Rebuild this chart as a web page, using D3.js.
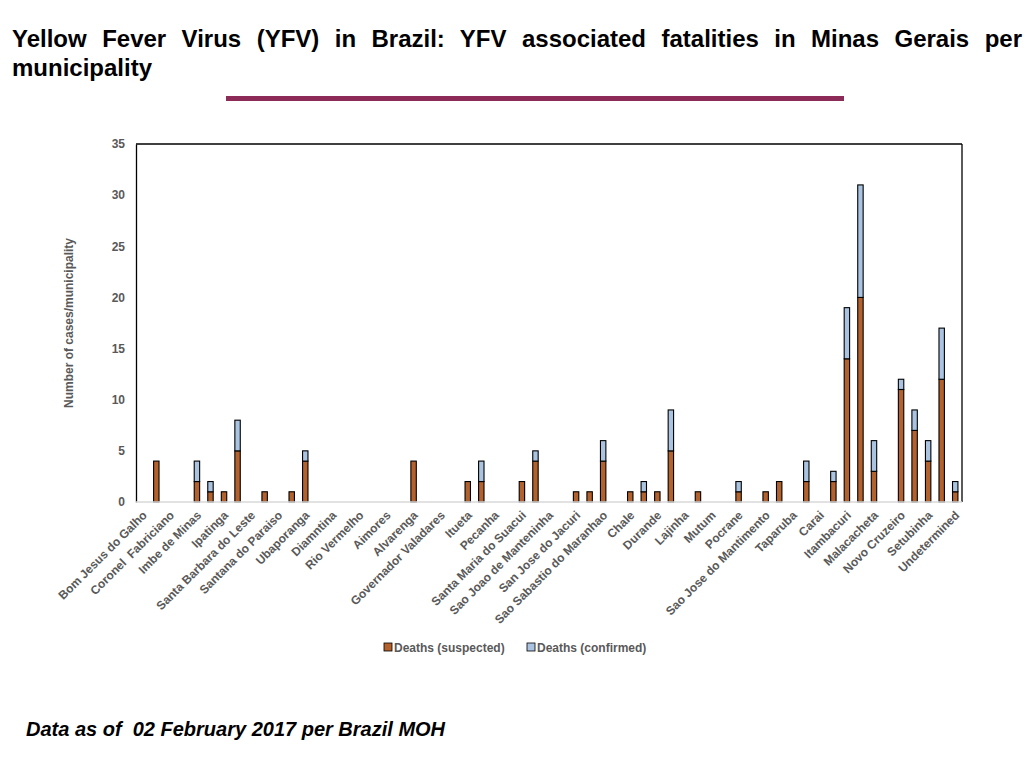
<!DOCTYPE html>
<html><head><meta charset="utf-8">
<script src="https://cdn.jsdelivr.net/npm/d3@7"></script>
<style>body{margin:0;background:#fff}svg{font-family:"Liberation Sans",Arial,sans-serif}</style>
</head><body><svg id="c" width="1024" height="768"></svg>
<script>
// Categories (every other municipality is labelled on the axis; unlabelled ones are "")
const categories = [
"Bom Jesus do Galho","","Coronel  Fabriciano","","Imbe de Minas","","Ipatinga","",
"Santa Barbara do Leste","","Santana do Paraiso","","Ubaporanga","","Diamntina","",
"Rio Vermelho","","Aimores","","Alvarenga","","Governador Valadares","","Itueta","",
"Pecanha","","Santa Maria do Suacui","","Sao Joao de Manteninha","","San Jose do Jacuri","",
"Sao Sabastio do Maranhao","","Chale","","Durande","","Lajinha","","Mutum","","Pocrane","",
"Sao Jose do Mantimento","","Taparuba","","Carai","","Itambacuri","","Malacacheta","",
"Novo Cruzeiro","","Setubinha","","Undetermined"];
const suspected = [
0,4,0,0,2,1,1,5,0,1,
0,1,4,0,0,0,0,0,0,0,
4,0,0,0,2,2,0,0,2,4,
0,0,1,1,4,0,1,1,1,5,
0,1,0,0,1,0,1,2,0,2,
0,2,14,20,3,0,11,7,4,12,
1];
const confirmed = [
0,0,0,0,2,1,0,3,0,0,
0,0,1,0,0,0,0,0,0,0,
0,0,0,0,0,2,0,0,0,1,
0,0,0,0,2,0,0,1,0,4,
0,0,0,0,1,0,0,0,0,2,
0,1,5,11,3,0,1,2,2,5,
1];
const seriesNames = ["Deaths (suspected)","Deaths (confirmed)"];
const yTicks = [0,5,10,15,20,25,30,35];
const titleLine1 = "Yellow Fever Virus (YFV) in Brazil: YFV associated fatalities in Minas Gerais per";
const titleLine2 = "municipality";
const yTitle = "Number of cases/municipality";
const footer = "Data as of  02 February 2017 per Brazil MOH";

const colors = ["#b3622e","#a9c3e0"];
const svg = d3.select("#c");
const L = 136, R = 962, T = 144, B = 502;

// Title, justified first line
const t1 = svg.append("text").attr("x",12).attr("y",47)
  .attr("font-size",24).attr("font-weight","bold").attr("fill","#000")
  .style("white-space","pre").text(titleLine1);
const natural = t1.node().getComputedTextLength();
const spaces = titleLine1.split(" ").length - 1;
t1.attr("word-spacing", (1022 - 12 - natural) / spaces);
svg.append("text").attr("x",12).attr("y",76)
  .attr("font-size",24).attr("font-weight","bold").attr("fill","#000").text(titleLine2);
svg.append("rect").attr("x",226).attr("y",96).attr("width",618).attr("height",5).attr("fill","#8c2a58");

// Scales
const idx = d3.range(categories.length);
const x = d3.scaleBand().domain(idx).range([L,R]).paddingInner(0.6).paddingOuter(0.3);
const y = d3.scaleLinear().domain([0,35]).range([B,T]);

// Frame
svg.append("line").attr("x1",L).attr("x2",R).attr("y1",T).attr("y2",T).attr("stroke","#000").attr("stroke-width",1.3);
svg.append("line").attr("x1",R).attr("x2",R).attr("y1",T).attr("y2",B).attr("stroke","#000").attr("stroke-width",1.3);

// Y axis
const ya = svg.append("g").attr("transform",`translate(${L},0)`)
  .call(d3.axisLeft(y).tickValues(yTicks).tickSize(0).tickPadding(11));
ya.select(".domain").attr("stroke","#000").attr("stroke-width",1.3);
ya.selectAll("text").attr("font-size",12).attr("font-weight","bold").attr("fill","#595959")
  .attr("font-family","Liberation Sans, Arial, sans-serif");
svg.append("text").attr("transform","translate(73,323) rotate(-90)").attr("text-anchor","middle")
  .attr("font-size",12).attr("font-weight","bold").attr("fill","#595959").text(yTitle);

// Stacked bars
const rows = idx.map(i => ({i, s: suspected[i], c: confirmed[i]}));
const stack = d3.stack().keys(["s","c"])(rows);
svg.append("g").selectAll("g").data(stack).join("g").attr("fill",(d,k)=>colors[k])
  .selectAll("rect").data(d=>d.filter(p=>p[1]-p[0]>0)).join("rect")
  .attr("x",d=>x(d.data.i)).attr("width",x.bandwidth())
  .attr("y",d=>y(d[1])).attr("height",d=>y(d[0])-y(d[1]))
  .attr("stroke","#000").attr("stroke-width",1.1);

// X axis
svg.append("line").attr("x1",L).attr("x2",R).attr("y1",B).attr("y2",B).attr("stroke","#d9d9d9").attr("stroke-width",1.3);
svg.append("g").selectAll("text").data(idx.filter(i=>categories[i]!=="")).join("text")
  .attr("transform",i=>`translate(${x(i)+x.bandwidth()/2+2},513) rotate(-45)`)
  .attr("text-anchor","end").attr("dy","0.35em").style("white-space","pre")
  .attr("font-size",12).attr("font-weight","bold").attr("fill","#595959")
  .text(i=>categories[i]);

// Legend
const lg = svg.append("g");
const lx = [384, 527];
seriesNames.forEach((n,k)=>{
  lg.append("rect").attr("x",lx[k]).attr("y",643).attr("width",8).attr("height",8)
    .attr("fill",colors[k]).attr("stroke","#000").attr("stroke-width",0.8);
  lg.append("text").attr("x",lx[k]+10).attr("y",652).attr("font-size",12)
    .attr("font-weight","bold").attr("fill","#595959").text(n);
});

// Footer
svg.append("text").attr("x",26).attr("y",736).attr("font-size",20).attr("font-weight","bold")
  .attr("font-style","italic").attr("fill","#000").style("white-space","pre").text(footer);
</script></body></html>
